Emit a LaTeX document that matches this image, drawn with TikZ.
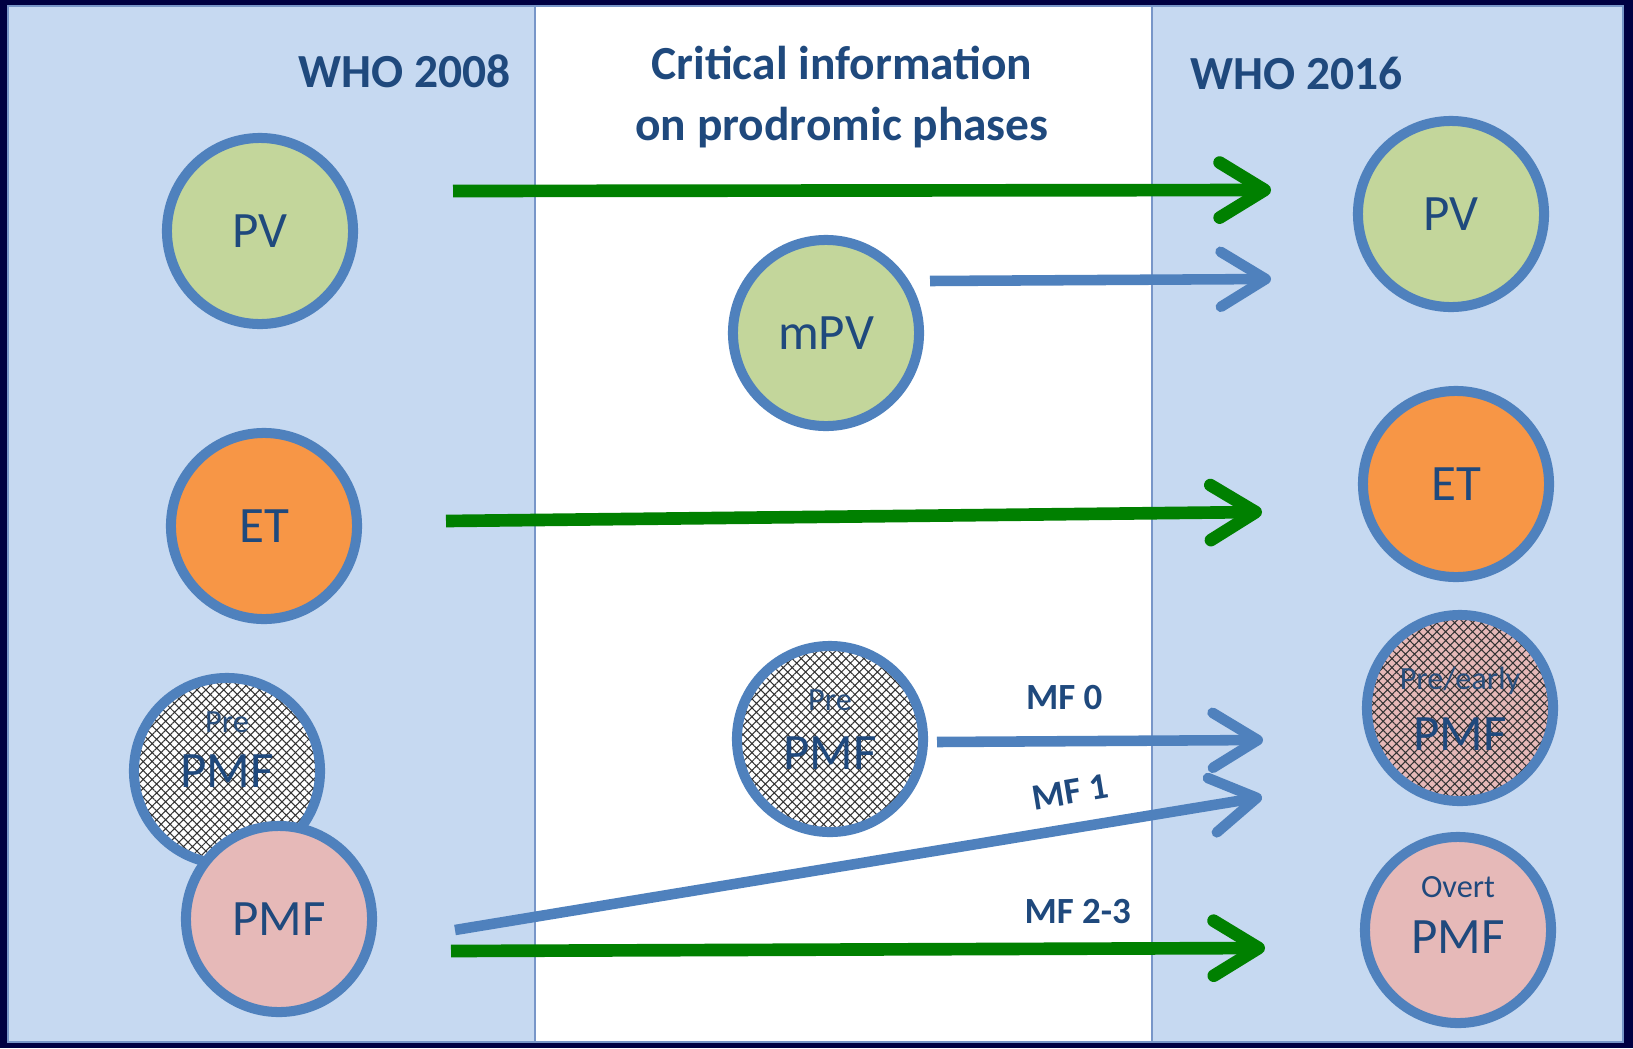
\documentclass[tikz,border=0pt]{standalone}
\usepackage{fontspec}
\setmainfont{Carlito}
\usetikzlibrary{arrows.meta, patterns.meta}

\definecolor{navyframe}{RGB}{0,0,66}
\definecolor{panelblue}{RGB}{198,217,241}
\definecolor{panelline}{RGB}{120,150,200}
\definecolor{ringblue}{RGB}{79,129,189}
\definecolor{textblue}{RGB}{31,73,125}
\definecolor{arrowgreen}{RGB}{0,128,0}
\definecolor{pvgreen}{RGB}{195,214,155}
\definecolor{etorange}{RGB}{247,150,70}
\definecolor{pmfpink}{RGB}{230,185,184}

\begin{document}
\begin{tikzpicture}[x=0.01cm, y=-0.01cm,
    stage/.style={circle, draw=ringblue, line width=2.85pt, minimum size=1.86cm,
        inner sep=0pt, text=textblue, font=\fontsize{14.5}{16}\selectfont},
    hatched/.style={preaction={fill=#1}, pattern={Hatch[angle=45, distance=1.8pt, line width=0.3pt]},
        pattern color=black!80},
    stagetag/.style={text=textblue!90!gray, font=\fontsize{9.2}{10}\selectfont},
    greenarrow/.style={draw=arrowgreen, line width=3.6pt, -{Straight Barb[length=0.45cm, width=0.55cm, round]}},
    bluearrow/.style={draw=ringblue, line width=3pt, -{Straight Barb[length=0.45cm, width=0.55cm, round]}},
    mflabel/.style={text=textblue, font=\bfseries\fontsize{10.5}{12}\selectfont},
    heading/.style={text=textblue, align=center, font=\bfseries\fontsize{13.5}{17.4}\selectfont}
]
    % Frame and the three panels
    \fill[navyframe] (0,0) rectangle (1633,1048);
    \draw[panelline, fill=panelblue, line width=0.5pt] (8,6) rectangle (535,1042);
    \draw[panelline, fill=white, line width=0.5pt] (535,6) rectangle (1152,1042);
    \draw[panelline, fill=panelblue, line width=0.5pt] (1152,6) rectangle (1623,1042);

    % Headings
    \node[heading] (who08) at (405,71) {WHO 2008};
    \node[heading] (crit) at (842,97) {Critical information\\on prodromic phases};
    \node[heading] (who16) at (1297,73) {WHO 2016};

    % WHO 2008 entities
    \node[stage, fill=pvgreen] (pvL) at (260,231) {PV};
    \node[stage, fill=etorange] (etL) at (264,526) {ET};
    \node[stage, hatched=white, label={[stagetag, yshift=0.49cm]center:Pre}] (preL) at (227,771) {PMF};
    \node[stage, fill=pmfpink] (pmfL) at (279,919) {PMF};

    % prodromic phases
    \node[stage, fill=pvgreen] (mpv) at (826,333) {mPV};
    \node[stage, hatched=white, label={[stagetag, yshift=0.39cm]center:Pre}] (preM) at (830,739) {\raisebox{-0.3cm}[0pt][0pt]{PMF}};

    % WHO 2016 entities
    \node[stage, fill=pvgreen] (pvR) at (1451,214) {PV};
    \node[stage, fill=etorange] (etR) at (1456,484) {ET};
    \node[stage, hatched=pmfpink, label={[stagetag, yshift=0.27cm]center:Pre/early}] (preR) at (1460,708) {\raisebox{-0.42cm}[0pt][0pt]{PMF}};
    \node[stage, fill=pmfpink, label={[stagetag, text=textblue, yshift=0.43cm]center:Overt}] (pmfR) at (1458,930) {\raisebox{-0.23cm}[0pt][0pt]{PMF}};

    % arrow end points
    \coordinate (pvFrom) at (453,191);
    \coordinate (pvTo) at (1271,190);
    \coordinate (mpvFrom) at (930,281);
    \coordinate (mpvTo) at (1271,279);
    \coordinate (etFrom) at (446,521);
    \coordinate (etTo) at (1262,512);
    \coordinate (mfzFrom) at (937,742);
    \coordinate (mfzTo) at (1263,740);
    \coordinate (mfoFrom) at (455,930);
    \coordinate (mfoTo) at (1262,797);
    \coordinate (mftFrom) at (451,951);
    \coordinate (mftTo) at (1265,948);

    % Arrows
    \draw[greenarrow] (pvFrom) -- (pvTo);
    \draw[bluearrow] (mpvFrom) -- (mpvTo);
    \draw[greenarrow] (etFrom) -- (etTo);
    \draw[bluearrow] (mfzFrom) -- node[mflabel, pos=0.39, above=4pt] {MF 0} (mfzTo);
    \draw[bluearrow] (mfoFrom) -- node[mflabel, pos=0.77, above=2pt, sloped] {MF 1} (mfoTo);
    \draw[greenarrow] (mftFrom) -- node[mflabel, pos=0.77, above=2pt] {MF 2-3} (mftTo);
\end{tikzpicture}
\end{document}
